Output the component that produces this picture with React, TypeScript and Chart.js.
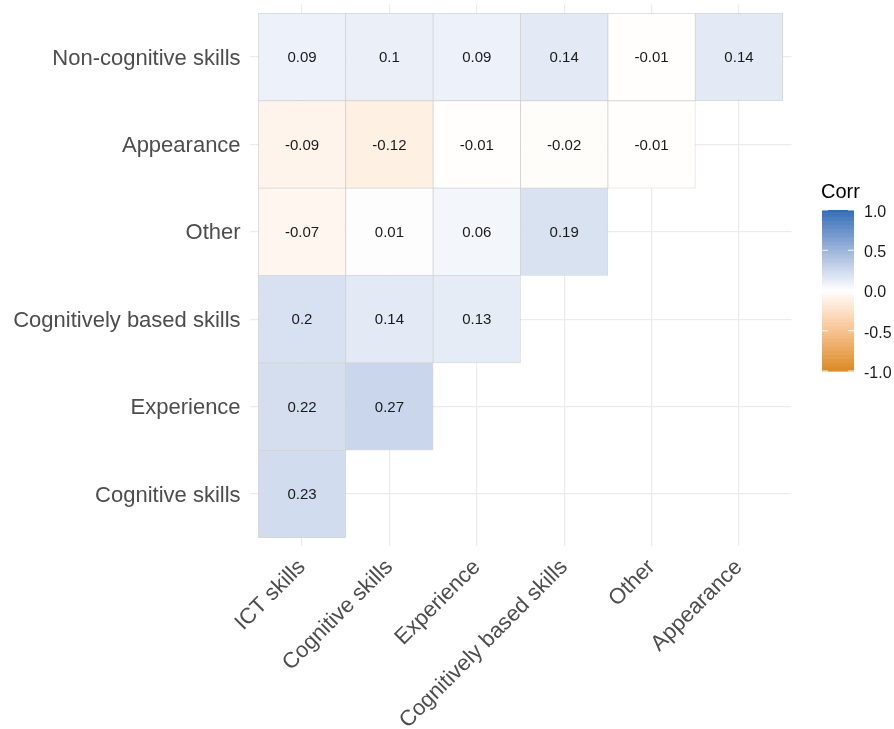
import React, { useEffect, useRef } from "react";
import { Chart, registerables } from "chart.js";

Chart.register(...registerables);

// ---- Data ----
const X_LABELS = ["ICT skills", "Cognitive skills", "Experience", "Cognitively based skills", "Other", "Appearance"];
// rows from bottom (1) to top (6)
const Y_LABELS = ["Cognitive skills", "Experience", "Cognitively based skills", "Other", "Appearance", "Non-cognitive skills"];

const ROW_COGNITIVE = [0.23];
const ROW_EXPERIENCE = [0.22, 0.27];
const ROW_COG_BASED = [0.2, 0.14, 0.13];
const ROW_OTHER = [-0.07, 0.01, 0.06, 0.19];
const ROW_APPEARANCE = [-0.09, -0.12, -0.01, -0.02, -0.01];
const ROW_NONCOG = [0.09, 0.1, 0.09, 0.14, -0.01, 0.14];

const ROWS = [ROW_COGNITIVE, ROW_EXPERIENCE, ROW_COG_BASED, ROW_OTHER, ROW_APPEARANCE, ROW_NONCOG];

const LEGEND_TICKS = [1, 0.5, 0, -0.5, -1];
const LEGEND_TITLE = "Corr";

// ---- Colour scale ----
const LOW = "#DA8A1A";
const MID = "#FFFFFF";
const HIGH = "#2E6DB6";

function hexToRgb(h: string): number[] {
  const s = h.replace("#", "");
  return [0, 2, 4].map((i) => parseInt(s.slice(i, i + 2), 16));
}
function toLin(c: number) {
  c /= 255;
  return c <= 0.04045 ? c / 12.92 : Math.pow((c + 0.055) / 1.055, 2.4);
}
function fromLin(c: number) {
  const v = c <= 0.0031308 ? 12.92 * c : 1.055 * Math.pow(c, 1 / 2.4) - 0.055;
  return Math.round(Math.max(0, Math.min(1, v)) * 255);
}
const XN = 0.95047, YN = 1, ZN = 1.08883;
function rgbToLab(rgb: number[]): number[] {
  const R = toLin(rgb[0]), G = toLin(rgb[1]), B = toLin(rgb[2]);
  const X = 0.4124 * R + 0.3576 * G + 0.1805 * B;
  const Y = 0.2126 * R + 0.7152 * G + 0.0722 * B;
  const Z = 0.0193 * R + 0.1192 * G + 0.9505 * B;
  const f = (t: number) => (t > 0.008856 ? Math.cbrt(t) : 7.787 * t + 16 / 116);
  const fx = f(X / XN), fy = f(Y / YN), fz = f(Z / ZN);
  return [116 * fy - 16, 500 * (fx - fy), 200 * (fy - fz)];
}
function labToRgb(lab: number[]): number[] {
  const fy = (lab[0] + 16) / 116;
  const fx = lab[1] / 500 + fy;
  const fz = fy - lab[2] / 200;
  const finv = (t: number) => (t * t * t > 0.008856 ? t * t * t : (t - 16 / 116) / 7.787);
  const X = XN * finv(fx), Y = YN * finv(fy), Z = ZN * finv(fz);
  const R = 3.2406 * X - 1.5372 * Y - 0.4986 * Z;
  const G = -0.9689 * X + 1.8758 * Y + 0.0415 * Z;
  const B = 0.0557 * X - 0.204 * Y + 1.057 * Z;
  return [fromLin(R), fromLin(G), fromLin(B)];
}
const RGB_MID = hexToRgb(MID);
const RGB_HIGH = hexToRgb(HIGH);
const LAB_LOW = rgbToLab(hexToRgb(LOW));
const LAB_MID = rgbToLab(RGB_MID);
const LAB_HIGH = rgbToLab(RGB_HIGH);
function colorFor(v: number): string {
  const t = Math.max(-1, Math.min(1, v));
  let rgb: number[];
  if (t >= 0) {
    const lin = [0, 1, 2].map((i) => RGB_MID[i] + (RGB_HIGH[i] - RGB_MID[i]) * t);
    const lab = labToRgb([0, 1, 2].map((i) => LAB_MID[i] + (LAB_HIGH[i] - LAB_MID[i]) * t));
    rgb = [0, 1, 2].map((i) => Math.round((lin[i] + lab[i]) / 2));
  } else {
    const u = -t;
    rgb = labToRgb([0, 1, 2].map((i) => LAB_MID[i] + (LAB_LOW[i] - LAB_MID[i]) * u));
  }
  return `rgb(${rgb[0]},${rgb[1]},${rgb[2]})`;
}

const FONT = "'Liberation Sans', Arial, Helvetica, sans-serif";

const cellLabels = {
  id: "cellLabels",
  afterDatasetsDraw(chart: any) {
    const ctx = chart.ctx;
    ctx.save();
    ctx.font = `15px ${FONT}`;
    ctx.fillStyle = "#1a1a1a";
    ctx.textAlign = "center";
    ctx.textBaseline = "middle";
    chart.data.datasets.forEach((ds: any, di: number) => {
      const meta = chart.getDatasetMeta(di);
      meta.data.forEach((el: any, i: number) => {
        const v = ds.data[i].v;
        ctx.fillText(String(v), el.x, (el.y + el.base) / 2 + 1);
      });
    });
    ctx.restore();
  },
};

const colorLegend = {
  id: "colorLegend",
  afterDraw(chart: any) {
    const ctx = chart.ctx;
    const x0 = 822, w = 32, top = 210, h = 161;
    ctx.save();
    const n = 200;
    for (let i = 0; i < n; i++) {
      const v = 1 - (2 * (i + 0.5)) / n;
      ctx.fillStyle = colorFor(v);
      ctx.fillRect(x0, top + (h * i) / n, w, h / n + 0.6);
    }
    // white ticks
    ctx.strokeStyle = "rgba(255,255,255,0.9)";
    ctx.lineWidth = 1;
    LEGEND_TICKS.forEach((t) => {
      const y = top + ((1 - t) / 2) * h;
      ctx.beginPath();
      ctx.moveTo(x0, y);
      ctx.lineTo(x0 + 6, y);
      ctx.moveTo(x0 + w - 6, y);
      ctx.lineTo(x0 + w, y);
      ctx.stroke();
    });
    ctx.fillStyle = "#1a1a1a";
    ctx.font = `16px ${FONT}`;
    ctx.textAlign = "left";
    ctx.textBaseline = "middle";
    LEGEND_TICKS.forEach((t) => {
      const y = top + ((1 - t) / 2) * h + 2.5;
      ctx.fillText(t.toFixed(1), 864, y);
    });
    ctx.fillStyle = "#000";
    ctx.font = `20px ${FONT}`;
    ctx.textBaseline = "alphabetic";
    ctx.fillText(LEGEND_TITLE, 821, 198);
    ctx.restore();
  },
};

function zeroPad(s: any) {
  s.paddingLeft = 0;
  s.paddingRight = 0;
  s.paddingTop = 0;
  s.paddingBottom = 0;
}

export default function App() {
  const ref = useRef<HTMLCanvasElement | null>(null);
  useEffect(() => {
    if (!ref.current) return;
    const datasets = ROWS.map((row, ri) => ({
      label: Y_LABELS[ri],
      data: row.map((v, ci) => ({ x: ci + 1, y: [ri + 0.5, ri + 1.5], v })),
      backgroundColor: (c: any) => (c.raw ? colorFor(c.raw.v) : "#fff"),
      borderColor: "rgba(200,200,200,0.75)",
      borderWidth: 0.8,
      borderSkipped: false,
      grouped: false,
      barPercentage: 1,
      categoryPercentage: 1,
    }));
    const chart = new Chart(ref.current, {
      type: "bar",
      data: { datasets } as any,
      options: {
        animation: false,
        responsive: false,
        maintainAspectRatio: false,
        layout: { padding: { left: 0, top: 4.6, right: 102.6, bottom: 0 } },
        plugins: { legend: { display: false }, tooltip: { enabled: false } },
        scales: {
          x: {
            type: "linear",
            min: 0.4,
            max: 6.6,
            offset: false,
            afterBuildTicks: (s: any) => {
              s.ticks = X_LABELS.map((_, i) => ({ value: i + 1 }));
            },
            afterFit: (s: any) => {
              s.height = 182.6;
              zeroPad(s);
            },
            ticks: {
              autoSkip: false,
              maxRotation: 45,
              minRotation: 45,
              padding: 8,
              color: "#4d4d4d",
              font: { family: FONT, size: 22 },
              callback: (v: any) => X_LABELS[Math.round(v) - 1] ?? "",
            },
            grid: { color: "#ebebeb", lineWidth: 1.2, drawTicks: false, offset: false },
            border: { display: false },
          },
          y: {
            type: "linear",
            min: 0.4,
            max: 6.6,
            afterBuildTicks: (s: any) => {
              s.ticks = Y_LABELS.map((_, i) => ({ value: i + 1 }));
            },
            afterFit: (s: any) => {
              s.width = 249.6;
              zeroPad(s);
            },
            ticks: {
              autoSkip: false,
              padding: 9,
              labelOffset: 1.5,
              color: "#4d4d4d",
              font: { family: FONT, size: 22 },
              callback: (v: any) => Y_LABELS[Math.round(v) - 1] ?? "",
            },
            grid: { color: "#ebebeb", lineWidth: 1.2, drawTicks: false },
            border: { display: false },
          },
        },
      } as any,
      plugins: [cellLabels, colorLegend],
    });
    return () => chart.destroy();
  }, []);
  return (
    <div style={{ position: "fixed", left: 0, top: 0, width: 894, height: 729, background: "#fff" }}>
      <canvas ref={ref} width={894} height={729} style={{ width: 894, height: 729 }} />
    </div>
  );
}
